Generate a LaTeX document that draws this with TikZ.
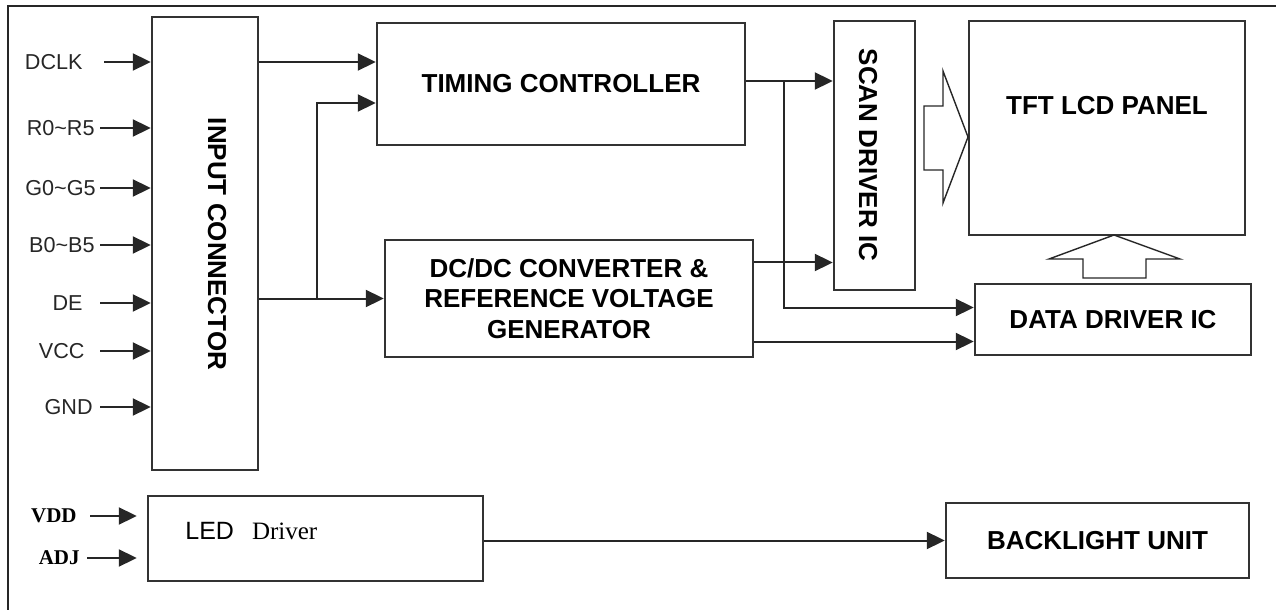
\documentclass[tikz,border=0pt]{standalone}
\usepackage{fontspec}
\setmainfont{Liberation Serif}
\setsansfont{Liberation Sans}
\usetikzlibrary{arrows.meta,positioning,calc}

\tikzset{
  blk/.style={draw=black!80, line width=1.2pt, inner sep=0pt, rectangle,
    font=\sffamily\bfseries\fontsize{13}{15.25}\selectfont, align=center},
  btxt/.style={inner sep=0pt, font=\sffamily\bfseries\fontsize{13}{15.25}\selectfont},
  sig/.style={inner sep=0pt, anchor=east, text=black!85,
    font=\sffamily\fontsize{10.8}{12}\selectfont},
  pwr/.style={inner sep=0pt, anchor=east,
    font=\rmfamily\bfseries\fontsize{10.5}{12}\selectfont},
  wire/.style={draw=black!85, line width=1pt},
  arr/.style={wire, -{Triangle[length=9pt,width=8.5pt]}},
  hollow/.style={draw=black!85, line width=0.7pt, line join=miter}
}

\begin{document}
\begin{tikzpicture}[x=0.5pt,y=-0.5pt]
\useasboundingbox (0,0) rectangle (1276,610);

% outer frame
\draw[wire] (8,610) -- (8,6) -- (1276,6);

% blocks
\node[blk, minimum width=53pt, minimum height=226.5pt] (inconn) at (205,243.5) {};
\node[btxt, rotate=-90] (inconntxt) at (217,244) {INPUT CONNECTOR};

\node[blk, minimum width=184pt, minimum height=61pt] (timing) at (561,84) {TIMING CONTROLLER};
\node[blk, minimum width=184pt, minimum height=58.5pt] (dcdc) at (569,298.5)
  {DC/DC CONVERTER \&\\REFERENCE VOLTAGE\\GENERATOR};

\node[blk, minimum width=40.5pt, minimum height=134.5pt] (scan) at (874.5,155.5) {};
\node[btxt, rotate=-90] (scantxt) at (868,155) {SCAN DRIVER IC};

\node[blk, minimum width=138pt, minimum height=107pt] (tft) at (1107,128) {};
\node[btxt, anchor=north, below=38pt of tft.north] (tfttxt) {TFT LCD PANEL};

\node[blk, minimum width=138pt, minimum height=35.5pt] (data) at (1113,319.5) {DATA DRIVER IC};

\node[blk, minimum width=167.5pt, minimum height=42.5pt] (led) at (315.5,538.5) {};
\node[inner sep=0pt, anchor=base west, font=\fontsize{12.5}{14}\selectfont]
  (ledtxt) at (185,539) {\sffamily LED\hspace{9pt}\rmfamily Driver};

\node[blk, minimum width=151.5pt, minimum height=37.5pt] (back) at (1097.5,540.5) {BACKLIGHT UNIT};

% input signals
\foreach \n/\t/\y/\xe/\xs in {dclk/DCLK/62/83/104, rr/R0\textasciitilde R5/128/95/100,
    gg/G0\textasciitilde G5/188/96/100, bb/B0\textasciitilde B5/245/95/100,
    de/DE/303/83/100, vcc/VCC/351/85/100, gnd/GND/407/93/100}{
  \node[sig] (\n) at (\xe,\y) {\t};
  \coordinate (\n s) at (\xs,\y);
  \draw[arr] (\n s) -- (\n s -| inconn.west);
}

\foreach \n/\t/\y/\xe/\xs in {vdd/VDD/516/77/90, adj/ADJ/558/80/87}{
  \node[pwr] (\n) at (\xe,\y) {\t};
  \coordinate (\n s) at (\xs,\y);
  \draw[arr, shorten >=5pt] (\n s) -- (\n s -| led.west);
}

% connections
\draw[arr] (dclk -| inconn.east) -- (dclk -| timing.west);
\draw[arr] (inconn.east |- dcdc.west) -- (dcdc.west);
\coordinate (br1) at (317,298);
\draw[arr] (br1) |- ($(timing.west)+(0,19)$);

\draw[arr] ($(timing.east)+(0,-3)$) coordinate (t1) -- (t1 -| scan.west);
\coordinate (br2) at ($(t1)+(38,0)$);
\draw[arr] (br2) |- ($(data.west)+(0,-12)$);

\coordinate (d1) at ($(dcdc.east)+(0,-36)$);
\draw[arr] (d1) -- (d1 -| scan.west);
\coordinate (d2) at ($(dcdc.east)+(0,43)$);
\draw[arr] (d2) -- (d2 -| data.west);

\draw[arr] (led.east |- back.west) -- (back.west);

% hollow arrows
\draw[hollow] (924,106) -- (943,106) -- (943,71) -- (968,137) -- (943,203)
  -- (943,170) -- (924,170) -- cycle;
\draw[hollow] (1083,278) -- (1083,259) -- (1049,259) -- (1114,235) -- (1180,259)
  -- (1146,259) -- (1146,278) -- cycle;

\end{tikzpicture}
\end{document}
